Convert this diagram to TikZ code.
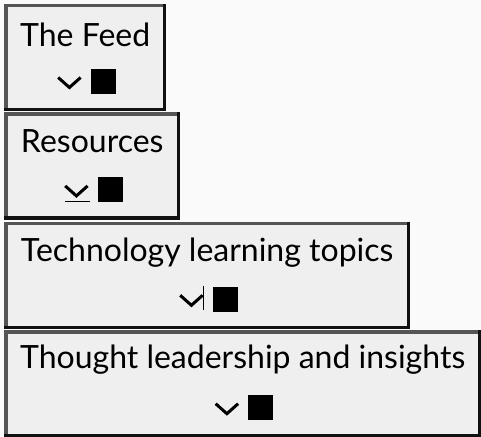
\documentclass[tikz,border=0pt]{standalone}
\usepackage{fontspec}
\setmainfont{Lato}
\usetikzlibrary{positioning}
\definecolor{pagebg}{HTML}{FAFAFA}
\definecolor{boxfill}{HTML}{EFEFEF}
\definecolor{edgelight}{HTML}{555555}
\definecolor{edgedark}{HTML}{111111}
\tikzset{
	menubox/.style={fill=boxfill, minimum height=107pt, inner sep=0pt, anchor=north west}, % one box per menu entry
	title/.style={font=\fontsize{32}{38}\selectfont, anchor=base, inner sep=0pt}, % the entry text
	knob/.style={fill=black, minimum size=25pt, inner sep=0pt}, % the black square
	chevron/.style={line width=3pt}, % the drop-down mark
	lightedge/.style={draw=edgelight, line width=3.5pt},
	darkedge/.style={draw=edgedark, line width=3.5pt},
}
\begin{document}
\begin{tikzpicture}[x=1pt, y=-1pt]
	\fill[pagebg] (0,0) rectangle (481,436);
	\useasboundingbox (0,0) rectangle (481,436);
	\node[menubox, minimum width=162pt] (feed) at (4,4) {};
	\node[menubox, minimum width=176pt, below=1pt of feed.south west, anchor=north west] (res) {};
	\node[menubox, minimum width=406pt, below=2pt of res.south west, anchor=north west] (tech) {};
	\node[menubox, minimum width=477pt, below=1pt of tech.south west, anchor=north west] (insight) {};
	\foreach \b in {feed, res, tech, insight} {
		\draw[lightedge] ([xshift=1.75pt, yshift=1.75pt]\b.south west) -- ([xshift=1.75pt, yshift=-1.75pt]\b.north west) -- ([xshift=-1.75pt, yshift=-1.75pt]\b.north east);
		\draw[darkedge] ([xshift=0pt, yshift=1.75pt]\b.south west) -- ([xshift=-1.75pt, yshift=1.75pt]\b.south east) -- ([xshift=-1.75pt, yshift=0pt]\b.north east);
		\draw[chevron] ([xshift=-27pt, yshift=-73.5pt]\b.north) -- ++(11.2,10) -- ++(11.2,-10);
		\node[knob] (\b knob) at ([xshift=18pt, yshift=-77.5pt]\b.north) {};
	}
	\node[title] (feedtitle) at ([yshift=-42pt]feed.north) {The Feed};
	\node[title] (restitle) at ([yshift=-40pt]res.north) {Resources};
	\node[title] (techtitle) at ([yshift=-40pt]tech.north) {Technology learning topics};
	\node[title] (insighttitle) at ([yshift=-38.5pt]insight.north) {Thought leadership and insights};
	% focus underline and text cursor
	\draw[line width=1pt] ([xshift=-27pt, yshift=-89pt]res.north) -- ++(25,0);
	\draw[line width=1pt] ([xshift=-3.7pt, yshift=-64pt]tech.north) -- ++(0,24);
\end{tikzpicture}
\end{document}
